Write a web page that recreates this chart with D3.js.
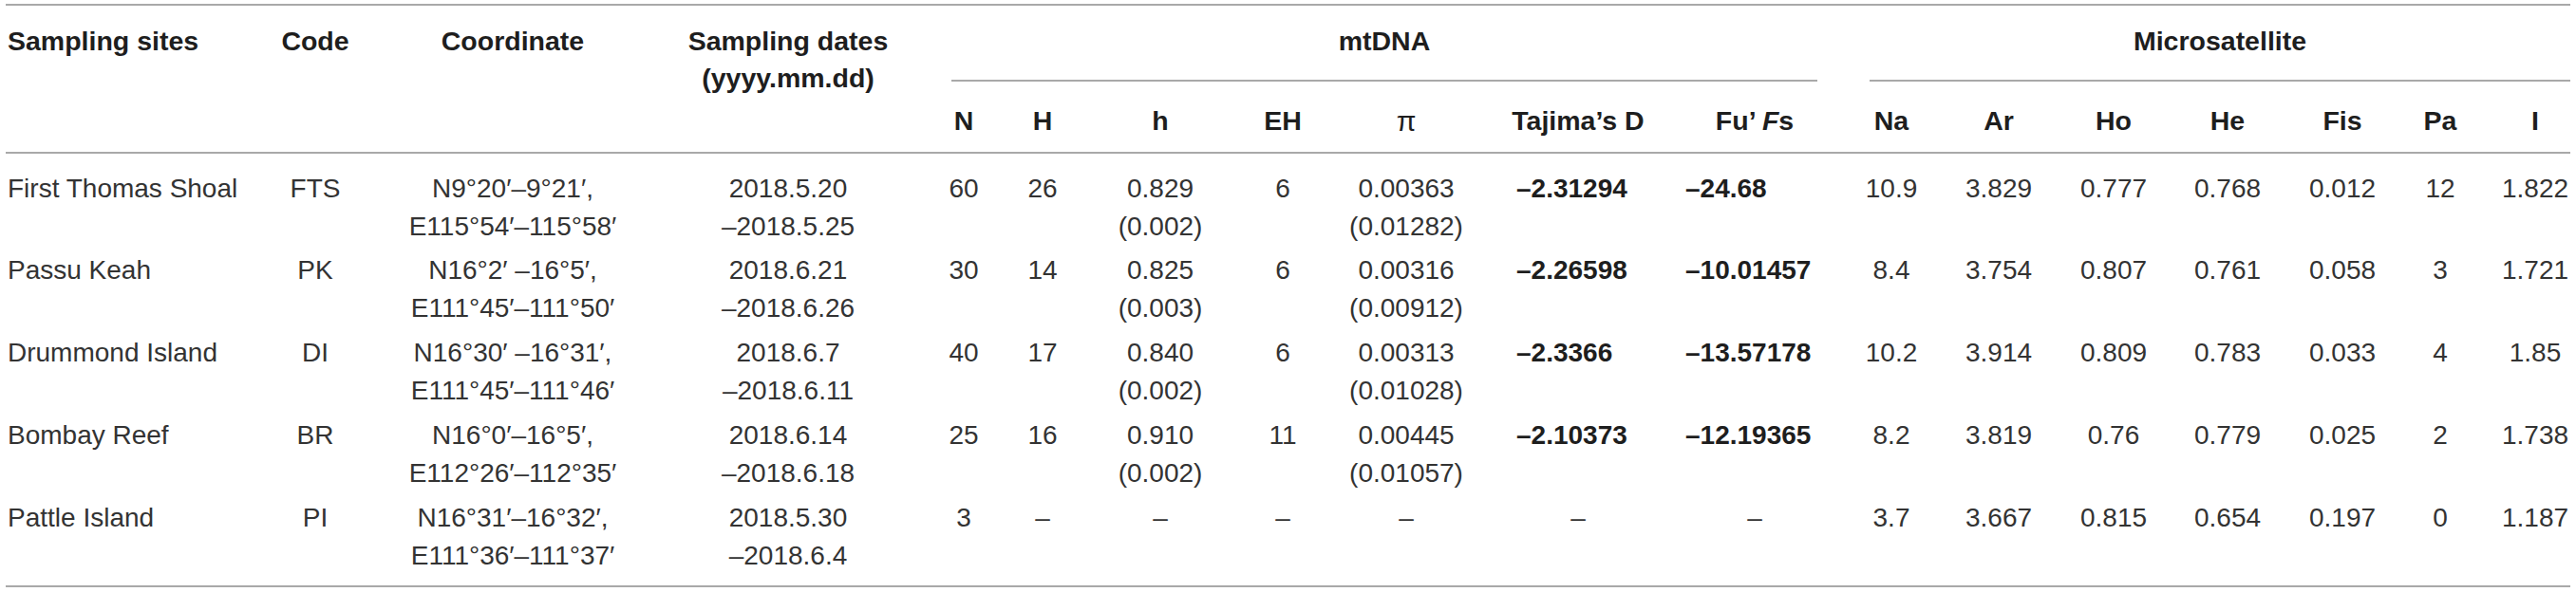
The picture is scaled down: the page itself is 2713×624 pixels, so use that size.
<!DOCTYPE html>
<html>
<head>
<meta charset="utf-8">
<script src="https://cdn.jsdelivr.net/npm/d3@7"></script>
<style>
  body { margin: 0; background: white; }
  text { font-family: "Liberation Sans", Arial, sans-serif; }
</style>
</head>
<body>
<div id="table"></div>
<script>
// table values
var sites = ["First Thomas Shoal", "Passu Keah", "Drummond Island", "Bombay Reef", "Pattle Island"];
var codes = ["FTS", "PK", "DI", "BR", "PI"];
var coordN = ["N9°20′–9°21′,", "N16°2′ –16°5′,", "N16°30′ –16°31′,", "N16°0′–16°5′,", "N16°31′–16°32′,"];
var coordE = ["E115°54′–115°58′", "E111°45′–111°50′", "E111°45′–111°46′", "E112°26′–112°35′", "E111°36′–111°37′"];
var dateStart = ["2018.5.20", "2018.6.21", "2018.6.7", "2018.6.14", "2018.5.30"];
var dateEnd = ["–2018.5.25", "–2018.6.26", "–2018.6.11", "–2018.6.18", "–2018.6.4"];

// mtDNA
var nVals = ["60", "30", "40", "25", "3"];
var hapVals = ["26", "14", "17", "16", "–"];
var hDiv = ["0.829", "0.825", "0.840", "0.910", "–"];
var hDivSd = ["(0.002)", "(0.003)", "(0.002)", "(0.002)", ""];
var ehVals = ["6", "6", "6", "11", "–"];
var piVals = ["0.00363", "0.00316", "0.00313", "0.00445", "–"];
var piSd = ["(0.01282)", "(0.00912)", "(0.01028)", "(0.01057)", ""];
var tajimaD = ["–2.31294", "–2.26598", "–2.3366", "–2.10373", "–"];
var fuFs = ["–24.68", "–10.01457", "–13.57178", "–12.19365", "–"];

// Microsatellite
var naVals = ["10.9", "8.4", "10.2", "8.2", "3.7"];
var arVals = ["3.829", "3.754", "3.914", "3.819", "3.667"];
var hoVals = ["0.777", "0.807", "0.809", "0.76", "0.815"];
var heVals = ["0.768", "0.761", "0.783", "0.779", "0.654"];
var fisVals = ["0.012", "0.058", "0.033", "0.025", "0.197"];
var paVals = ["12", "3", "4", "2", "0"];
var iVals = ["1.822", "1.721", "1.85", "1.738", "1.187"];

var colKeys = ["site", "code", "coord", "date", "N", "H", "h", "EH", "pi", "taj", "fu",
  "Na", "Ar", "Ho", "He", "Fis", "Pa", "I"];
var colHeads = ["Sampling sites", "Code", "Coordinate", "Sampling dates", "N", "H", "h", "EH", "π",
  "Tajima’s D", "Fu’ Fs", "Na", "Ar", "Ho", "He", "Fis", "Pa", "I"];

const width = 2713;
const height = 624;
const dataFont = 28;
const headFont = 28.5;
const textColor = "#333";
const lineColor = "#a9a9a9";

var svg = d3.select("#table")
  .append("svg")
  .attr("width", width)
  .attr("height", height)
  .style("background-color", "white");

// column centres
var x = d3.scaleOrdinal()
  .domain(colKeys)
  .range([8, 332, 540, 830, 1015, 1098, 1222, 1351, 1481, 1662, 1848,
    1992, 2105, 2226, 2346, 2467, 2570, 2670]);

// first line of each data row
var y = d3.scaleLinear().domain([0, 4]).range([198, 545]);
const lineGap = 40;

// rules
function rule(x1, x2, yy) {
  svg.append("line")
    .attr("x1", x1).attr("x2", x2)
    .attr("y1", yy).attr("y2", yy)
    .attr("stroke", lineColor)
    .attr("stroke-width", 2);
}
rule(6, 2707, 5);
rule(1002, 1914, 85);
rule(1969, 2707, 85);
rule(6, 2707, 161);
rule(6, 2707, 618);

// headers
var head = svg.append("g")
  .attr("font-weight", "bold")
  .attr("font-size", headFont)
  .attr("fill", "#1e1e1e")
  .attr("dominant-baseline", "central");

["site", "code", "coord", "date"].forEach((k, i) => {
  head.append("text")
    .attr("x", x(k))
    .attr("y", 43)
    .attr("text-anchor", k == "site" ? "start" : "middle")
    .text(colHeads[i]);
});
head.append("text")
  .attr("x", x("date"))
  .attr("y", 82)
  .attr("text-anchor", "middle")
  .text("(yyyy.mm.dd)");

head.append("text").attr("x", 1458).attr("y", 43)
  .attr("text-anchor", "middle").text("mtDNA");
head.append("text").attr("x", 2338).attr("y", 43)
  .attr("text-anchor", "middle").text("Microsatellite");

colKeys.slice(4).forEach((k, i) => {
  var t = head.append("text")
    .attr("x", x(k))
    .attr("y", 127)
    .attr("text-anchor", "middle");
  if (k == "pi") {
    t.attr("font-family", "Liberation Serif, serif")
      .attr("font-weight", "normal")
      .attr("font-size", 30)
      .text(colHeads[i + 4]);
  } else if (k == "fu") {
    t.append("tspan").text("Fu’ ");
    t.append("tspan").attr("font-style", "italic").text("F");
    t.append("tspan").text("s");
  } else {
    t.text(colHeads[i + 4]);
  }
});

// body
var body = svg.append("g")
  .attr("font-size", dataFont)
  .attr("fill", textColor)
  .attr("dominant-baseline", "central");

function cell(key, yy, val, opts) {
  opts = opts || {};
  var t = body.append("text")
    .attr("x", opts.x != null ? opts.x : x(key))
    .attr("y", yy)
    .attr("text-anchor", opts.anchor || "middle")
    .text(val);
  if (opts.bold) t.attr("font-weight", "bold").attr("fill", "#1e1e1e");
  return t;
}

sites.forEach((s, i) => {
  var y1 = y(i);
  var y2 = y(i) + lineGap;
  cell("site", y1, s, { anchor: "start" });
  cell("code", y1, codes[i]);
  cell("coord", y1, coordN[i]);
  cell("coord", y2, coordE[i]);
  cell("date", y1, dateStart[i]);
  cell("date", y2, dateEnd[i]);

  cell("N", y1, nVals[i]);
  cell("H", y1, hapVals[i]);
  cell("h", y1, hDiv[i]);
  cell("h", y2, hDivSd[i]);
  cell("EH", y1, ehVals[i]);
  cell("pi", y1, piVals[i]);
  cell("pi", y2, piSd[i]);

  // neutrality tests: values set flush left, dashes centred
  if (tajimaD[i] == "–") cell("taj", y1, "–");
  else cell("taj", y1, tajimaD[i], { anchor: "start", x: 1597, bold: true });
  if (fuFs[i] == "–") cell("fu", y1, "–");
  else cell("fu", y1, fuFs[i], { anchor: "start", x: 1775, bold: true });

  cell("Na", y1, naVals[i]);
  cell("Ar", y1, arVals[i]);
  cell("Ho", y1, hoVals[i]);
  cell("He", y1, heVals[i]);
  cell("Fis", y1, fisVals[i]);
  cell("Pa", y1, paVals[i]);
  cell("I", y1, iVals[i]);
});
</script>
</body>
</html>
